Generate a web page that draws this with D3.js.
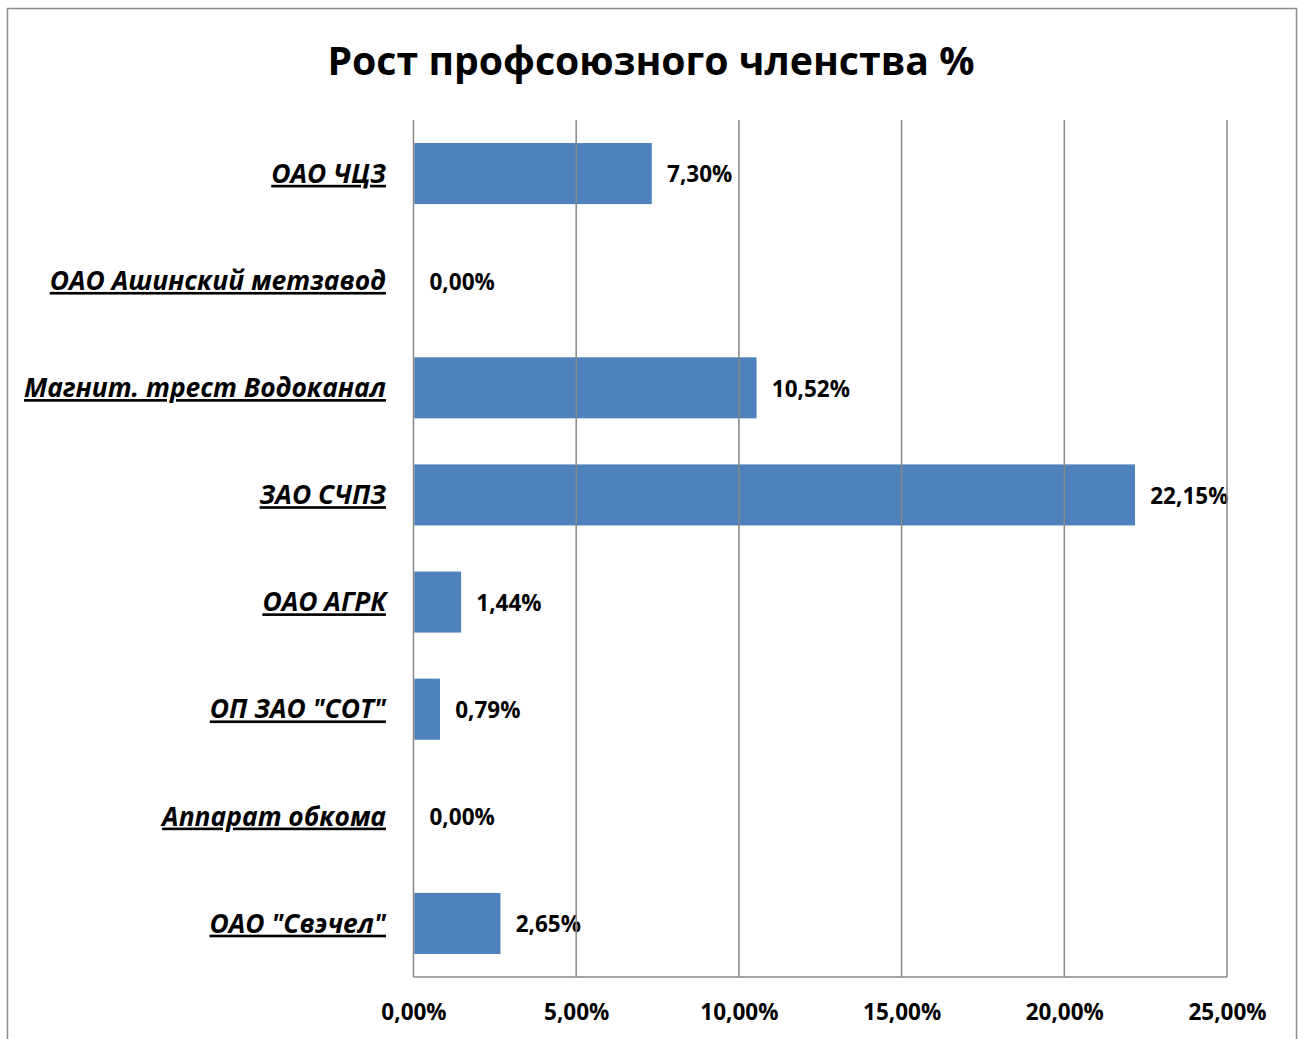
<!DOCTYPE html>
<html>
<head>
<meta charset="utf-8">
<script src="https://cdn.jsdelivr.net/npm/d3@7"></script>
<style>
  body { margin: 0; background: #fff; }
  text { font-family: "Open Sans", sans-serif; font-weight: bold; fill: #000; }
</style>
</head>
<body>
<div id="chart"></div>
<script>
var categories = ["ОАО ЧЦЗ", "ОАО Ашинский метзавод", "Магнит. трест Водоканал", "ЗАО СЧПЗ",
                  "ОАО АГРК", "ОП ЗАО \"СОТ\"", "Аппарат обкома", "ОАО \"Свэчел\""];
var values = [0.0730, 0.0000, 0.1052, 0.2215, 0.0144, 0.0079, 0.0000, 0.0265];
var tickValues = [0, 0.05, 0.10, 0.15, 0.20, 0.25];

var W = 1304, H = 1039;
var margin = {top: 120, right: 77, bottom: 62, left: 413.5};

var ru = d3.formatLocale({decimal: ",", thousands: " ", grouping: [3], currency: ["", " ₽"]});
var fmt = ru.format(".2%");

var svg = d3.select("#chart").append("svg")
    .attr("width", W)
    .attr("height", H);

// chart border
svg.append("rect")
    .attr("x", 7.5).attr("y", 8.5)
    .attr("width", 1289).attr("height", 1050)
    .attr("fill", "none")
    .attr("stroke", "#8a8a8a")
    .attr("stroke-width", 1.5);

svg.append("text")
    .attr("x", 651)
    .attr("y", 75)
    .attr("text-anchor", "middle")
    .style("font-size", "39.2px")
    .text("Рост профсоюзного членства %");

var xScale = d3.scaleLinear()
    .domain([0, 0.25])
    .range([margin.left, W - margin.right]);

var yScale = d3.scaleBand()
    .domain(categories)
    .range([margin.top, H - margin.bottom])
    .paddingInner(0.43)
    .paddingOuter(0.215);

// bars
svg.append("g").selectAll("rect")
    .data(values)
    .enter().append("rect")
    .attr("x", xScale(0) + 0.75)
    .attr("y", function(d, i) { return yScale(categories[i]); })
    .attr("width", function(d) { return Math.max(0, xScale(d) - xScale(0)); })
    .attr("height", yScale.bandwidth())
    .attr("fill", "#4f81bd");

// value labels
svg.append("g").selectAll("text")
    .data(values)
    .enter().append("text")
    .attr("x", function(d) { return xScale(d) + 16; })
    .attr("y", function(d, i) { return yScale(categories[i]) + yScale.bandwidth() / 2 + 1; })
    .attr("dy", "0.35em")
    .style("font-size", "22.5px")
    .text(function(d) { return fmt(d); });

// grid (drawn over labels, like the original)
svg.append("g").selectAll("line")
    .data(tickValues)
    .enter().append("line")
    .attr("x1", function(d) { return xScale(d); })
    .attr("x2", function(d) { return xScale(d); })
    .attr("y1", margin.top)
    .attr("y2", H - margin.bottom)
    .attr("stroke", "#888")
    .attr("stroke-width", 1.5);

svg.append("line")
    .attr("x1", margin.left).attr("x2", W - margin.right)
    .attr("y1", H - margin.bottom).attr("y2", H - margin.bottom)
    .attr("stroke", "#888")
    .attr("stroke-width", 1.5);

// category labels
svg.append("g").selectAll("text")
    .data(categories)
    .enter().append("text")
    .attr("x", 386)
    .attr("y", function(d) { return yScale(d) + yScale.bandwidth() / 2; })
    .attr("dy", "0.35em")
    .attr("text-anchor", "end")
    .style("font-size", "26.4px")
    .style("font-style", "italic")
    .style("text-decoration", "underline")
    .text(function(d) { return d; });

// x axis labels
var xAxis = d3.axisBottom(xScale)
    .tickValues(tickValues)
    .tickSize(0)
    .tickPadding(27)
    .tickFormat(fmt);

svg.append("g")
    .attr("transform", "translate(0," + (H - margin.bottom) + ")")
    .call(xAxis)
    .call(function(g) { g.select(".domain").remove(); })
    .selectAll("text")
    .style("font-size", "22.5px")
    .style("font-family", "'Open Sans', sans-serif")
    .style("font-weight", "bold")
    .attr("fill", "#000");
</script>
</body>
</html>
